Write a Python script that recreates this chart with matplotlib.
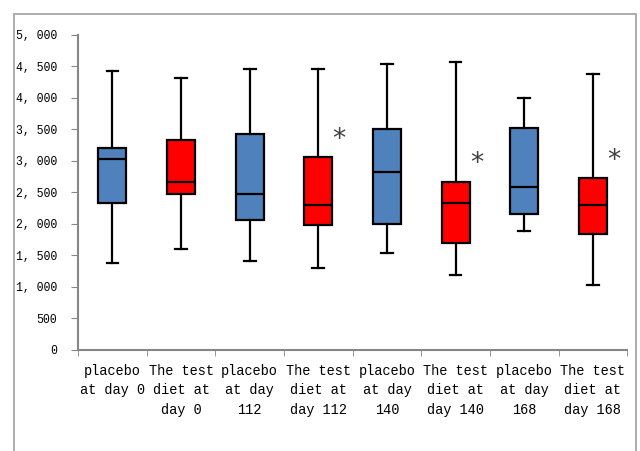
import matplotlib
matplotlib.use("Agg")
import matplotlib.pyplot as plt
from matplotlib.patches import Rectangle
from matplotlib.ticker import FuncFormatter, MultipleLocator

labels = ["placebo\nat day 0", "The test\ndiet at\nday 0",
          "placebo\nat day\n112", "The test\ndiet at\nday 112",
          "placebo\nat day\n140", "The test\ndiet at\nday 140",
          "placebo\nat day\n168", "The test\ndiet at\nday 168"]
whislo = [1386, 1601, 1412, 1301, 1544, 1196, 1881, 1028]
q1     = [2333, 2466, 2066, 1976, 1992, 1697, 2161, 1834]
med    = [3030, 2671, 2476, 2303, 2819, 2334, 2582, 2303]
q3     = [3198, 3330, 3425, 3056, 3504, 2671, 3520, 2730]
whishi = [4426, 4320, 4463, 4458, 4542, 4574, 3989, 4384]
starred = [False, False, False, True, False, True, False, True]

blue = "#4F81BD"
red = "#FF0000"
colors = [blue if i % 2 == 0 else red for i in range(len(labels))]

font = "Liberation Mono"

fig = plt.figure(figsize=(6.4, 4.51), dpi=100)
ax = fig.add_axes([0.122, 0.224, 0.858, 0.699])

stats = []
for i in range(len(labels)):
    stats.append(dict(whislo=whislo[i], q1=q1[i], med=med[i], q3=q3[i],
                      whishi=whishi[i], fliers=[]))
pos = list(range(1, len(labels) + 1))
bp = ax.bxp(stats, positions=pos, widths=0.41, patch_artist=True,
            showfliers=False, capwidths=0.17,
            boxprops=dict(edgecolor="black", linewidth=1.6),
            medianprops=dict(color="black", linewidth=1.6),
            whiskerprops=dict(color="black", linewidth=1.6),
            capprops=dict(color="black", linewidth=1.6))
for patch, c in zip(bp["boxes"], colors):
    patch.set_facecolor(c)

# significance marks next to the test-diet boxes
for i, s in enumerate(starred):
    if s:
        ax.annotate("*", xy=(pos[i], q3[i]), xytext=(15, 3),
                    textcoords="offset points", ha="center", va="bottom",
                    fontsize=19, color="#404040", family="DejaVu Sans")

ax.set_xlim(0.5, len(labels) + 0.5)
ax.set_ylim(0, 5000)
ax.yaxis.set_major_locator(MultipleLocator(500))
ax.yaxis.set_major_formatter(FuncFormatter(lambda v, p: f"{v:,.0f}".replace(",", ", ")))

ax.set_xticks(pos)
ax.set_xticklabels(labels, family=font, fontsize=9.8, linespacing=1.5,
                   ha="center", multialignment="center")
ax.set_xticks([p + 0.5 for p in [0] + pos], minor=True)
ax.tick_params(axis="x", which="major", length=0, pad=10)
ax.tick_params(axis="x", which="minor", length=4, color="#868686", direction="out")
ax.tick_params(axis="y", length=5, color="#868686", pad=10)
for t in ax.get_yticklabels():
    t.set_family(font)
    t.set_fontsize(8.3)

for side in ["top", "right"]:
    ax.spines[side].set_visible(False)
for side in ["left", "bottom"]:
    ax.spines[side].set_color("#868686")
    ax.spines[side].set_linewidth(1.5)

# outer chart frame (open at the bottom, like the cropped original)
fig.patches.append(Rectangle((14 / 640, -0.05), (636 - 14) / 640, 1.05 - 14 / 451,
                             transform=fig.transFigure, fill=False,
                             edgecolor="#A6A6A6", linewidth=1.3))

fig.savefig("out.png", dpi=100)
